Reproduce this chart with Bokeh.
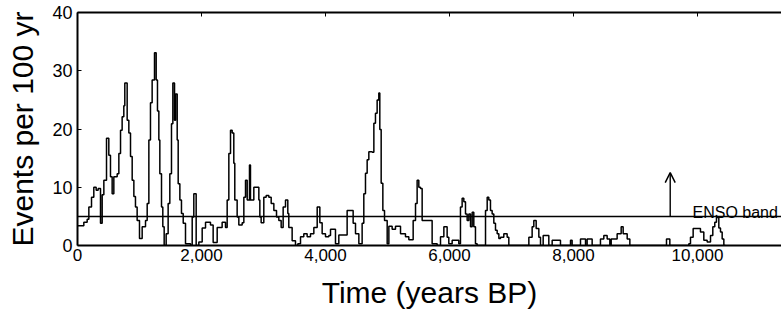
from bokeh.plotting import figure
from bokeh.models import (LinearAxis, Range1d, FixedTicker, Span, Arrow, OpenHead,
                          Label, NumeralTickFormatter, CustomJSTickFormatter)
from bokeh.embed import file_html
from bokeh.resources import INLINE

# ---- data (years BP, events per 100 yr) ----
years = [0, 48, 102, 156, 183, 226, 263, 301, 333, 371, 398, 425, 468, 505, 532, 559, 586,
         640, 667, 694, 720, 747, 763, 801, 828, 855, 882, 909, 935, 962, 1000, 1043, 1097,
         1124, 1151, 1177, 1204, 1242, 1269, 1290, 1312, 1328, 1355, 1376, 1398, 1430, 1462,
         1489, 1516, 1538, 1565, 1581, 1608, 1624, 1651, 1677, 1705, 1742, 1823, 1850, 1876,
         1914, 1957, 2011, 2065, 2145, 2188, 2226, 2253, 2333, 2387, 2414, 2441, 2468, 2495,
         2521, 2537, 2575, 2602, 2656, 2683, 2710, 2737, 2774, 2790, 2844, 2898, 2925, 2941,
         2962, 3005, 3043, 3086, 3124, 3167, 3210, 3247, 3285, 3317, 3355, 3392, 3408, 3462,
         3516, 3554, 3597, 3650, 3704, 3758, 3812, 3866, 3909, 3946, 4000, 4054, 4081, 4161,
         4215, 4296, 4349, 4430, 4446, 4484, 4538, 4591, 4618, 4645, 4672, 4699, 4753, 4780,
         4806, 4833, 4860, 4876, 4898, 4925, 4952, 4995, 5022, 5075, 5129, 5210, 5290, 5344,
         5414, 5452, 5478, 5505, 5532, 5559, 5667, 5720, 5801, 5855, 5909, 5962, 5989, 6043,
         6097, 6150, 6177, 6204, 6231, 6258, 6285, 6312, 6339, 6366, 6392, 6419, 6446, 6554,
         6581, 6608, 6634, 6661, 6688, 6715, 6742, 6769, 6796, 6823, 6876, 6930, 6957, 7253,
         7280, 7333, 7360, 7398, 7441, 7468, 7511, 7575, 7602, 7656, 7763, 7790, 7952, 7978,
         8113, 8194, 8220, 8301, 8435, 8489, 8543, 8586, 8608, 8704, 8769, 8801, 8866, 8909,
         9500, 9554, 9860, 9887, 9930, 10021, 10048, 10102, 10156, 10210, 10247, 10279, 10306,
         10344, 10371, 10398, 10425, 10450]
events = [3.4, 3.4, 4.0, 4.5, 6.6, 8.3, 10.0, 9.5, 9.8, 3.8, 8.7, 11.2, 18.4, 15.5, 11.8, 8.9, 11.8,
          12.3, 15.8, 19.8, 22.1, 24.0, 27.9, 21.5, 19.3, 15.3, 11.2, 8.4, 6.6, 4.3, 1.2, 3.2, 4.3,
          7.2, 18.1, 24.5, 28.4, 33.1, 28.4, 23.1, 18.1, 12.3, 6.6, 3.2, 0.0, 2.0, 7.2,
          12.3, 20.9, 27.9, 21.5, 26.0, 18.1, 10.6, 7.8, 5.5, 3.8, 0.3, 0.0, 4.9, 8.9,
          0.0, 0.6, 3.0, 4.0, 3.5, 0.5, 0.5, 3.1, 4.0, 3.1, 7.8, 15.8, 19.8, 19.3,
          14.1, 7.8, 4.9, 3.5, 3.9, 8.3, 11.2, 7.8, 13.8, 7.8, 10.0, 10.0, 7.8, 4.9,
          3.9, 8.3, 8.6, 8.3, 7.2, 6.0, 4.9, 4.3, 3.1, 6.6, 7.8, 5.5, 3.1, 0.8,
          0.0, 0.3, 1.5, 2.0, 1.5, 2.0, 3.1, 6.6, 3.9, 2.0, 1.5, 1.7, 2.8, 0.3,
          1.8, 1.8, 6.0, 6.0, 3.8, 2.0, 0.3, 3.8, 8.9, 12.4, 14.7, 16.1, 16.0, 21.0,
          22.7, 25.0, 26.2, 19.9, 10.7, 6.0, 4.3, 0.3, 3.3, 2.8, 3.3, 2.0, 1.5, 1.0,
          4.3, 7.2, 11.2, 10.0, 9.8, 4.3, 4.3, 0.3, 0.0, 1.5, 3.2, 1.4, 0.3, 0.9,
          0.9, 0.3, 6.6, 8.1, 7.5, 5.4, 4.3, 5.4, 3.2, 5.7, 3.2, 0.3, 0.0, 0.0,
          6.0, 8.3, 7.8, 6.0, 5.4, 3.8, 2.6, 2.0, 1.2, 1.4, 2.0, 1.4, 0.0, 0.0,
          1.4, 3.2, 4.3, 2.9, 1.4, 0.0, 1.7, 1.7, 0.0, 0.9, 0.9, 0.0, 0.9, 0.0,
          1.1, 0.0, 1.1, 0.0, 1.1, 1.7, 1.1, 0.0, 1.1, 2.0, 3.2, 2.0, 1.1, 0.0,
          1.1, 0.0, 0.3, 1.4, 2.9, 2.9, 2.3, 0.9, 0.6, 1.7, 3.2, 4.0, 4.8,
          3.0, 2.3, 1.1, 0.0, 0.0]

x_ticks = [0, 2000, 4000, 6000, 8000, 10000]
y_ticks = [0, 10, 20, 30, 40]
enso_threshold = 5
arrow_year = 9560
arrow_top = 12.5
label_year = 9920
label_level = 5.6
x_max = 11355
y_max = 40

FONT = "Liberation Sans"

p = figure(width=781, height=313, x_range=Range1d(0, x_max), y_range=Range1d(0, y_max),
           output_backend="svg", toolbar_location=None,
           x_axis_type=None, y_axis_type=None,
           min_border_left=77, min_border_right=0, min_border_top=12, min_border_bottom=68)
p.outline_line_color = None
p.xgrid.visible = False
p.ygrid.visible = False
p.background_fill_color = "white"
p.border_fill_color = "white"

def style(ax):
    ax.axis_line_color = "black"
    ax.axis_line_width = 2
    ax.major_tick_line_color = "black"
    ax.major_tick_line_width = 1
    ax.minor_tick_line_color = None
    ax.major_label_text_font = FONT
    ax.major_label_text_color = "black"
    ax.axis_label_text_font = FONT
    ax.axis_label_text_font_style = "normal"
    ax.axis_label_text_color = "black"

xb = LinearAxis(ticker=FixedTicker(ticks=x_ticks), formatter=NumeralTickFormatter(format="0,0"),
                axis_label="Time (years BP)")
style(xb)
xb.major_tick_in = 0
xb.major_tick_out = 0
xb.major_label_standoff = 3
xb.major_label_text_font_size = "17px"
xb.axis_label_text_font_size = "30px"
xb.axis_label_standoff = 12
p.add_layout(xb, "below")

xt = LinearAxis(ticker=FixedTicker(ticks=x_ticks),
                formatter=CustomJSTickFormatter(code="return ''"))
style(xt)
xt.major_tick_in = 4
xt.major_tick_out = 0
xt.major_label_standoff = 0
xt.major_label_text_font_size = "0px"
p.add_layout(xt, "above")

yl = LinearAxis(ticker=FixedTicker(ticks=y_ticks), axis_label="Events per 100 yr")
style(yl)
yl.major_tick_in = 4
yl.major_tick_out = 0
yl.major_label_standoff = 5
yl.major_label_text_font_size = "18px"
yl.axis_label_text_font_size = "30px"
yl.axis_label_standoff = 10
p.add_layout(yl, "left")

p.step(years, events, mode="after", line_color="black", line_width=1.5)

p.add_layout(Span(location=enso_threshold, dimension="width", line_color="black", line_width=1.5))
p.add_layout(Arrow(end=OpenHead(size=10, line_width=1.5, line_color="black"),
                   x_start=arrow_year, y_start=enso_threshold, x_end=arrow_year, y_end=arrow_top,
                   line_color="black", line_width=1.4))
p.add_layout(Label(x=label_year, y=label_level, text="ENSO band", text_font=FONT,
                   text_font_size="16px", text_color="black", text_baseline="alphabetic"))

open("out.html", "w").write(file_html(p, INLINE))
